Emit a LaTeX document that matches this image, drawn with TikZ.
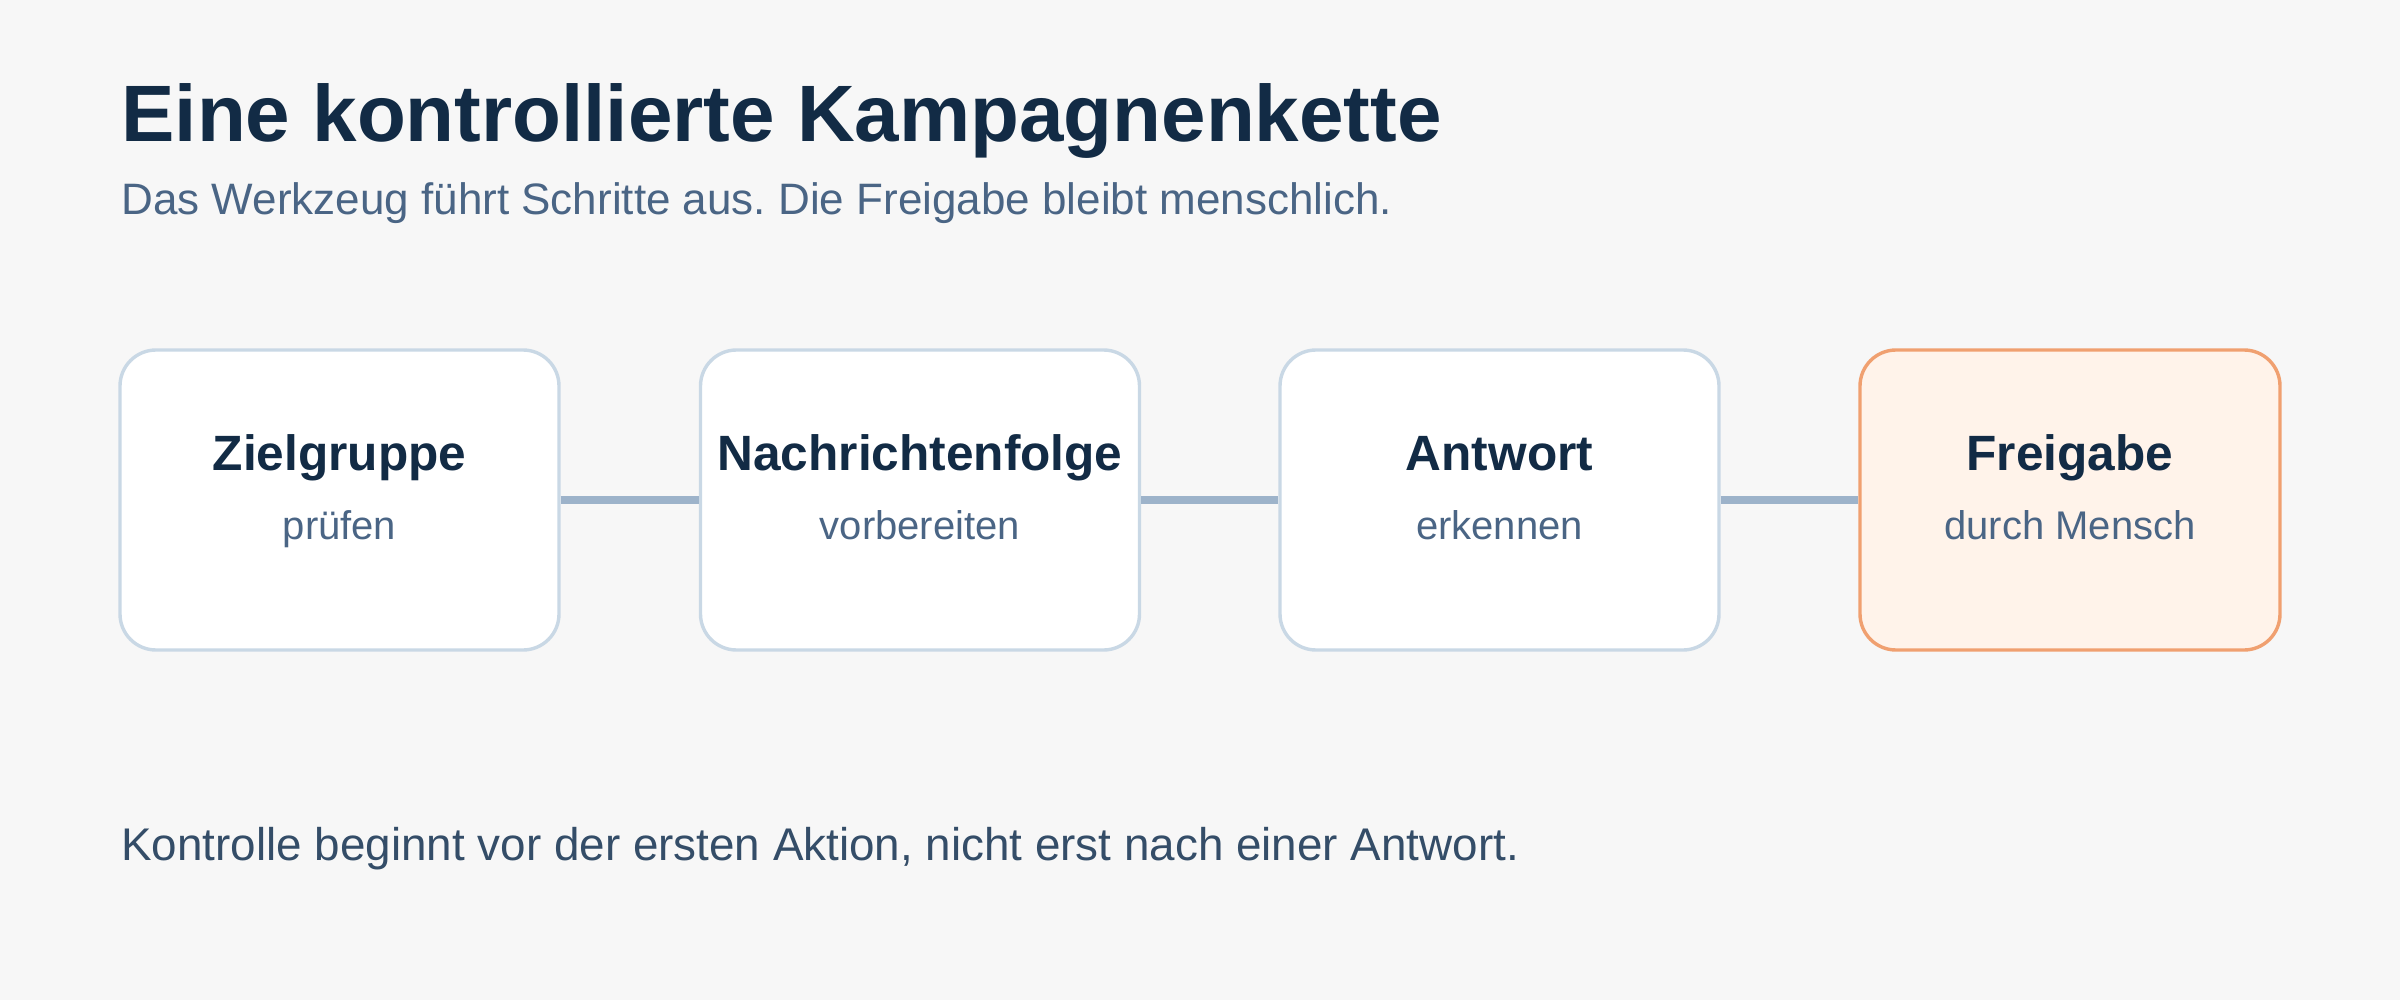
\documentclass[tikz,border=0pt]{standalone}
\usepackage{fontspec}
\setmainfont{Liberation Sans}
\frenchspacing
\definecolor{bgcol}{HTML}{F7F7F7}
\definecolor{navy}{HTML}{122B45}
\definecolor{slate}{HTML}{4A6585}
\definecolor{foot}{HTML}{344D68}
\definecolor{boxline}{HTML}{C9D8E5}
\definecolor{wire}{HTML}{9DB3CA}
\definecolor{hline}{HTML}{F0A070}
\definecolor{hfill}{HTML}{FFF3EA}
\begin{document}
\begin{tikzpicture}[x=0.5pt, y=-0.5pt]
  \tikzstyle{step box}=[rectangle, draw=boxline, line width=1.7pt, fill=white, rounded corners=18pt, minimum width=219.5pt, minimum height=150pt, inner sep=0pt]
  \tikzstyle{human box}=[step box, draw=hline, fill=hfill, minimum width=210pt]
  \tikzstyle{head}=[anchor=base, inner sep=0pt, text=navy, font=\fontsize{24.8}{29}\selectfont\bfseries]
  \tikzstyle{sub}=[anchor=base, inner sep=0pt, text=slate, font=\fontsize{20}{24}\selectfont]

  \fill[bgcol] (0, 0) rectangle (2400, 1000);

  \node[anchor=base west, inner sep=0pt, text=navy, font=\fontsize{40}{48}\selectfont\bfseries] (title) at (121, 142) {Eine kontrollierte Kampagnenkette};
  \node[anchor=base west, inner sep=0pt, text=slate, font=\fontsize{22}{26}\selectfont] (subtitle) at (121, 215) {Das Werkzeug führt Schritte aus. Die Freigabe bleibt menschlich.};

  \node[step box]  (b1) at (339.5, 500) {};
  \node[step box]  (b2) at (920,   500) {};
  \node[step box]  (b3) at (1499.5, 500) {};
  \node[human box] (b4) at (2070,  500) {};

  \path[draw=wire, line width=3.8pt] (b1) edge (b2);
  \path[draw=wire, line width=3.8pt] (b2) edge (b3);
  \path[draw=wire, line width=3.8pt] (b3) edge (b4);

  \node[head] (h1) at (339.5,  470) {Zielgruppe};
  \node[head] (h2) at (920,    470) {Nachrichtenfolge};
  \node[head] (h3) at (1499.5, 470) {Antwort};
  \node[head] (h4) at (2070,   470) {Freigabe};

  \node[sub] (s1) at (339.5,  539) {prüfen};
  \node[sub] (s2) at (920,    539) {vorbereiten};
  \node[sub] (s3) at (1499.5, 539) {erkennen};
  \node[sub] (s4) at (2070,   539) {durch Mensch};

  \node[anchor=base west, inner sep=0pt, text=foot, font=\fontsize{22.9}{28}\selectfont] (note) at (121, 860) {Kontrolle beginnt vor der ersten Aktion, nicht erst nach einer Antwort.};

\end{tikzpicture}
\end{document}
